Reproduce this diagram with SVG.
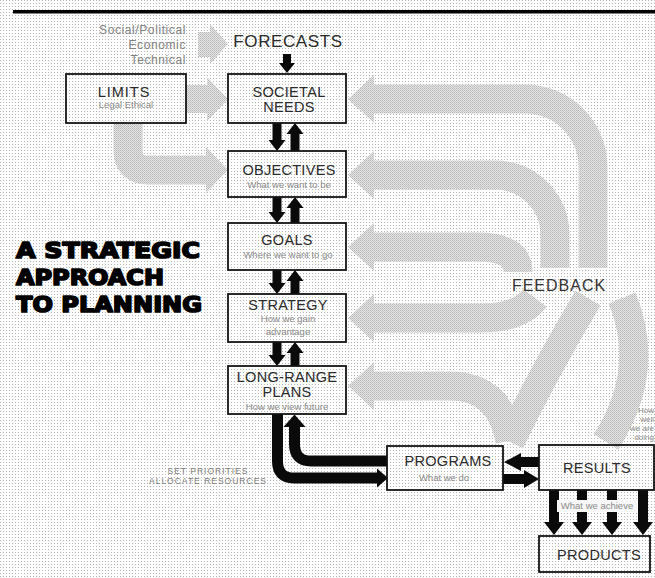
<svg xmlns="http://www.w3.org/2000/svg" width="655" height="578" viewBox="0 0 655 578">
<defs>
<pattern id="stip" width="3" height="3" patternUnits="userSpaceOnUse">
<rect width="3" height="3" fill="#ffffff"/>
<rect width="1" height="1" fill="#b4b4b4"/>
</pattern>
<pattern id="gstip" width="2" height="2" patternUnits="userSpaceOnUse">
<rect width="2" height="2" fill="#e6e6e6"/>
<rect width="1" height="1" fill="#b4b4b4"/>
<rect x="1" y="1" width="1" height="1" fill="#c6c6c6"/>
</pattern>
</defs>
<style>
.box{fill:none;stroke:#151515;stroke-width:1.8}
.band{fill:none;stroke:url(#gstip);stroke-width:29}
.ghead{fill:url(#gstip)}
.blk{fill:#0a0a0a}
.bline{fill:none;stroke:#0a0a0a;stroke-width:11}
.lbl{font-family:"Liberation Sans",Arial,sans-serif;font-size:14.5px;fill:#2a2a2a;text-anchor:middle;letter-spacing:0.3px}
.sub{font-family:"Liberation Sans",Arial,sans-serif;font-size:9.5px;fill:#8a8a8a;text-anchor:middle}
.side{font-family:"Liberation Sans",Arial,sans-serif;font-size:12px;fill:#808080;text-anchor:end;letter-spacing:0.6px}
.title{font-family:"DejaVu Sans","Liberation Sans",sans-serif;font-weight:bold;font-size:22px;fill:#000;stroke:#000;stroke-width:1.7;stroke-linejoin:round}
.small{font-family:"Liberation Sans",Arial,sans-serif;font-size:8.5px;fill:#7a7a7a;text-anchor:middle;letter-spacing:1px}
.how{font-family:"Liberation Sans",Arial,sans-serif;font-size:8px;fill:#8a8a8a;text-anchor:end}
</style>
<rect width="655" height="578" fill="url(#stip)"/>
<rect x="13" y="10" width="642" height="3.5" fill="#000"/>

<g id="connectors">
<!-- gray input arrows -->
<polygon class="ghead" points="198,32 210,32 210,24 228,44 210,64 210,57 198,57"/>
<polygon class="ghead" points="186,85 207,85 207,77 228,99 207,121 207,113 186,113"/>
<path class="band" d="M128 123 V150 Q128 170 148 170 H208"/>
<polygon class="ghead" points="206,147 228,170 206,193"/>
<!-- feedback bands -->
<path class="band" d="M372 99 H525 A68 68 0 0 1 593 167 V268"/>
<polygon class="ghead" points="348,99 374,75 374,123"/>
<path class="band" d="M372 175 H495 A60 60 0 0 1 555 235 V268"/>
<polygon class="ghead" points="348,175 374,151 374,199"/>
<path class="band" d="M372 247 H478 Q518 247 518 272"/>
<polygon class="ghead" points="348,247 374,223 374,271"/>
<path class="band" d="M372 318 H480 Q520 318 535 298"/>
<polygon class="ghead" points="348,318 374,294 374,342"/>
<path class="band" d="M372 386 H450 Q500 386 510 441"/>
<polygon class="ghead" points="348,386 374,362 374,410"/>
<path class="band" d="M588 298 Q545 370 510 442"/>
<path class="band" d="M622 298 Q652 370 606 442"/>
<!-- forecast arrow -->
<polygon class="blk" points="283,54 291,54 291,63 295,63 287,73 279,63 283,63"/>
<!-- column arrows -->
<polygon class="blk" points="272.5,123 281.5,123 281.5,140 285.5,140 277,151 268.5,140 272.5,140"/>
<polygon class="blk" points="290.5,151 299.5,151 299.5,134 303.5,134 295,123 286.5,134 290.5,134"/>
<polygon class="blk" points="272.5,197 281.5,197 281.5,212 285.5,212 277,223 268.5,212 272.5,212"/>
<polygon class="blk" points="290.5,223 299.5,223 299.5,208 303.5,208 295,197 286.5,208 290.5,208"/>
<polygon class="blk" points="272.5,270 281.5,270 281.5,283 285.5,283 277,294 268.5,283 272.5,283"/>
<polygon class="blk" points="290.5,294 299.5,294 299.5,281 303.5,281 295,270 286.5,281 290.5,281"/>
<polygon class="blk" points="272.5,342 281.5,342 281.5,355 285.5,355 277,366 268.5,355 272.5,355"/>
<polygon class="blk" points="290.5,366 299.5,366 299.5,353 303.5,353 295,342 286.5,353 290.5,353"/>
<!-- LRP <-> PROGRAMS -->
<path class="bline" d="M277.5 414 V461 Q277.5 478 294 478 H378"/>
<polygon class="blk" points="377,468.5 388,478 377,487.5"/>
<path class="bline" d="M387 461 H311 Q294.5 461 294.5 444 V426"/>
<polygon class="blk" points="283.5,427 294.5,414.5 305.5,427"/>
<!-- PROGRAMS <-> RESULTS -->
<polygon class="blk" points="539,457 521,457 521,453 504,462 521,471 521,467 539,467"/>
<polygon class="blk" points="503,474 524,474 524,470 539,479 524,488 524,484 503,484"/>
<!-- RESULTS -> PRODUCTS -->
<polygon class="blk" points="549,490 559,490 559,522 564,522 554,535 544,522 549,522"/>
<polygon class="blk" points="577,490 587,490 587,522 592,522 582,535 572,522 577,522"/>
<polygon class="blk" points="607,490 617,490 617,522 622,522 612,535 602,522 607,522"/>
<polygon class="blk" points="638,490 648,490 648,522 653,522 643,535 633,522 638,522"/>
<rect x="557" y="500" width="80" height="12" fill="#f7f7f7"/>
<text class="sub" x="597" y="509">What we achieve</text>
</g>

<g id="forecasts">
<text class="lbl" x="288" y="47" style="font-size:17px;letter-spacing:0.6px">FORECASTS</text>
<text class="side" x="186" y="34">Social/Political</text>
<text class="side" x="186" y="49">Economic</text>
<text class="side" x="186" y="64">Technical</text>
</g>

<g id="limits">
<rect class="box" x="66" y="74" width="120" height="49"/>
<text class="lbl" x="124" y="97" style="letter-spacing:1px">LIMITS</text>
<text class="sub" x="126" y="108">Legal Ethical</text>
</g>

<g id="societal-needs">
<rect class="box" x="228" y="74" width="118" height="49"/>
<text class="lbl" x="289" y="97">SOCIETAL</text>
<text class="lbl" x="289" y="112">NEEDS</text>
</g>

<g id="objectives">
<rect class="box" x="228" y="151" width="118" height="46"/>
<text class="lbl" x="289" y="175">OBJECTIVES</text>
<text class="sub" x="289" y="188">What we want to be</text>
</g>

<g id="goals">
<rect class="box" x="228" y="223" width="118" height="47"/>
<text class="lbl" x="287" y="245">GOALS</text>
<text class="sub" x="288" y="258">Where we want to go</text>
</g>

<g id="strategy">
<rect class="box" x="228" y="294" width="118" height="48"/>
<text class="lbl" x="288" y="310">STRATEGY</text>
<text class="sub" x="288" y="322">How we gain</text>
<text class="sub" x="288" y="335">advantage</text>
</g>

<g id="long-range-plans">
<rect class="box" x="228" y="366" width="118" height="48"/>
<text class="lbl" x="287" y="382">LONG-RANGE</text>
<text class="lbl" x="287" y="397">PLANS</text>
<text class="sub" x="287" y="410">How we view future</text>
</g>

<g id="programs">
<rect class="box" x="387" y="446" width="116" height="44"/>
<text class="lbl" x="448" y="466">PROGRAMS</text>
<text class="sub" x="444" y="481">What we do</text>
</g>

<g id="results">
<rect class="box" x="539" y="445" width="115" height="45"/>
<text class="lbl" x="597" y="473">RESULTS</text>
<text class="how" x="654" y="413">How</text>
<text class="how" x="654" y="422">well</text>
<text class="how" x="654" y="431">we are</text>
<text class="how" x="654" y="440">doing</text>
</g>

<g id="products">
<rect class="box" x="539" y="536" width="111" height="36"/>
<text class="lbl" x="599" y="560">PRODUCTS</text>
</g>

<g id="feedback-label">
<text class="lbl" x="559" y="291" style="font-size:16px;letter-spacing:1px;fill:#333">FEEDBACK</text>
</g>

<g id="set-priorities">
<text class="small" x="208" y="474">SET PRIORITIES</text>
<text class="small" x="208" y="484">ALLOCATE RESOURCES</text>
</g>

<g id="title">
<text class="title" x="16" y="258" textLength="184" lengthAdjust="spacingAndGlyphs">A STRATEGIC</text>
<text class="title" x="16" y="285" textLength="148" lengthAdjust="spacingAndGlyphs">APPROACH</text>
<text class="title" x="16" y="312" textLength="186" lengthAdjust="spacingAndGlyphs">TO PLANNING</text>
</g>
</svg>
